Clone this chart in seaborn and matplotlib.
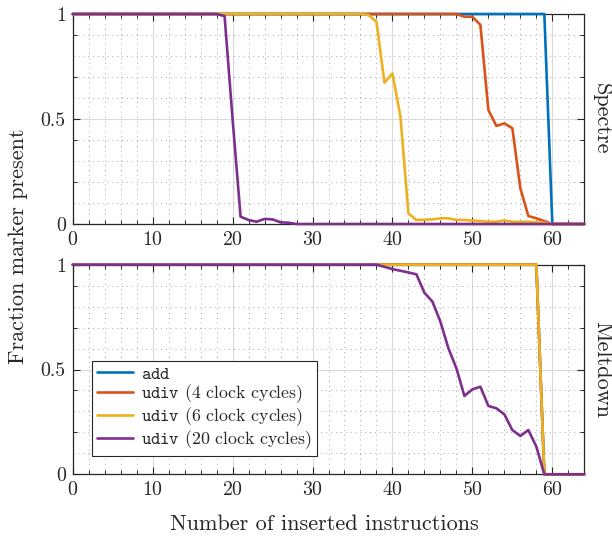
import numpy as np
import pandas as pd
import seaborn as sns
import matplotlib
matplotlib.use("Agg")
import matplotlib.pyplot as plt
from matplotlib.ticker import MultipleLocator, FuncFormatter

# x positions: number of inserted instructions
x = np.arange(0, 65)

labels = [r"$\mathtt{add}$", r"$\mathtt{udiv}$ (4 clock cycles)",
          r"$\mathtt{udiv}$ (6 clock cycles)", r"$\mathtt{udiv}$ (20 clock cycles)"]
colors = ["#0072BD", "#D95319", "#EDB120", "#7E2F8E"]

# Spectre (top panel)
spectre_add = [1.0] * 60 + [0.0] * 5
spectre_udiv4 = [1.0] * 49 + [0.987, 0.987, 0.948, 0.543, 0.467, 0.479, 0.456,
                              0.17, 0.038, 0.027, 0.014] + [0.0] * 5
spectre_udiv6 = [1.0] * 37 + [0.995, 0.963, 0.673, 0.717, 0.511, 0.05, 0.019, 0.02,
                              0.022, 0.027, 0.027, 0.019, 0.019, 0.016, 0.014, 0.011,
                              0.011, 0.017, 0.011, 0.01, 0.011, 0.008, 0.006] + [0.0] * 5
spectre_udiv20 = [1.0] * 19 + [0.99, 0.5, 0.035, 0.019, 0.011, 0.024, 0.022,
                               0.008, 0.006] + [0.0] * 37

# Meltdown (bottom panel)
meltdown_add = [1.0] * 59 + [0.0] * 6
meltdown_udiv4 = [1.0] * 59 + [0.0] * 6
meltdown_udiv6 = [1.0] * 59 + [0.0] * 6
meltdown_udiv20 = [1.0] * 39 + [0.99, 0.979, 0.971, 0.963, 0.954, 0.866, 0.824,
                                0.728, 0.601, 0.506, 0.374, 0.405, 0.418, 0.326,
                                0.315, 0.286, 0.211, 0.183, 0.211, 0.132] + [0.0] * 6


def long_df(series):
    frames = []
    for lab, vals in zip(labels, series):
        frames.append(pd.DataFrame({"x": x, "y": vals, "series": lab}))
    return pd.concat(frames, ignore_index=True)


df_spectre = long_df([spectre_add, spectre_udiv4, spectre_udiv6, spectre_udiv20])
df_meltdown = long_df([meltdown_add, meltdown_udiv4, meltdown_udiv6, meltdown_udiv20])

sns.set_style("ticks")
plt.rcParams["font.family"] = ["cmr10", "DejaVu Serif"]
plt.rcParams["mathtext.fontset"] = "cm"
plt.rcParams["axes.formatter.use_mathtext"] = True
plt.rcParams["axes.unicode_minus"] = False

W, H = 612, 536
fig = plt.figure(figsize=(W / 100, H / 100), dpi=100)
left, right = 72.7 / W, 584.3 / W
ax1 = fig.add_axes([left, 1 - 224 / H, right - left, 210 / H])
ax2 = fig.add_axes([left, 1 - 474.3 / H, right - left, 209.6 / H])

palette = dict(zip(labels, colors))
for ax, df, name in [(ax1, df_spectre, "Spectre"), (ax2, df_meltdown, "Meltdown")]:
    sns.lineplot(data=df, x="x", y="y", hue="series", hue_order=labels,
                 palette=palette, linewidth=1.9, ax=ax, legend=(ax is ax2))
    for ln in ax.get_lines():
        ln.set_clip_on(False)
        ln.set_zorder(3)
    ax.set_xlim(0, 64)
    ax.set_ylim(0, 1)
    ax.set_xlabel("")
    ax.set_ylabel("")
    ax.xaxis.set_major_locator(MultipleLocator(10))
    ax.xaxis.set_minor_locator(MultipleLocator(2))
    ax.yaxis.set_major_locator(MultipleLocator(0.5))
    ax.yaxis.set_minor_locator(MultipleLocator(0.1))
    ax.yaxis.set_major_formatter(FuncFormatter(lambda v, p: "%g" % v))
    ax.grid(which="major", color="#d9d9d9", linewidth=0.8, linestyle="-")
    ax.grid(which="minor", color="#a8a8a8", linewidth=0.7, linestyle=(0, (1, 4)))
    ax.set_axisbelow(True)
    ax.tick_params(which="both", direction="in", top=True, right=True,
                   color="#262626", labelsize=14.3, pad=5)
    ax.tick_params(which="major", length=5, width=0.8)
    ax.tick_params(which="minor", length=3, width=0.7)
    # minor y tick marks only at every 0.2
    for i, t in enumerate(ax.yaxis.get_minor_ticks()):
        if i % 2 == 1:
            t.tick1line.set_visible(False)
            t.tick2line.set_visible(False)
    for sp in ax.spines.values():
        sp.set_visible(True)
        sp.set_color("#262626")
        sp.set_linewidth(0.9)
        sp.set_zorder(2.5)
    ax.text(1.015, 0.5, name, transform=ax.transAxes, rotation=270,
            va="center", ha="left", fontsize=16, color="#262626")

leg = ax2.legend(loc="lower left", bbox_to_anchor=(0.038, 0.087), fontsize=12.8,
                 frameon=True, fancybox=False, edgecolor="#262626",
                 handlelength=2.0, handletextpad=0.45, borderpad=0.3,
                 labelspacing=0.02, borderaxespad=0)
leg.get_frame().set_linewidth(0.8)
leg.get_frame().set_alpha(1)
leg.set_zorder(5)

fig.text(18 / W, 1 - 246 / H, "Fraction marker present", rotation=90,
         va="center", ha="center", fontsize=16, color="#262626")
fig.text(324 / W, 1 - 524 / H, "Number of inserted instructions",
         va="center", ha="center", fontsize=16, color="#262626")

fig.savefig("out.png", dpi=100)
